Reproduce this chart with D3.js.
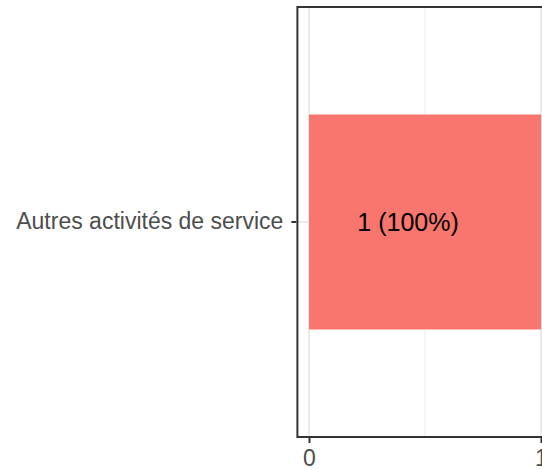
<!DOCTYPE html>
<html>
<head>
<meta charset="utf-8">
<script src="https://cdn.jsdelivr.net/npm/d3@7"></script>
<style>
  body { margin: 0; background: white; }
  svg { display: block; }
</style>
</head>
<body>
<div id="chart"></div>
<script>
// data
var categories = ["Autres activités de service"];
var counts = [1];
var percents = [100];
var xTicks = [0, 1];
var xMinor = [0.5];

var data = categories.map(function (c, i) {
  return {cat: c, n: counts[i], pct: percents[i]};
});

var W = 542, H = 470;
var panel = {top: 7, bottom: 437};

var svg = d3.select("#chart")
  .append("svg")
    .attr("width", W)
    .attr("height", H)
    .style("font-family", "Liberation Sans, Arial, sans-serif");

// x scale: 0 -> 309, 1 -> 541 (ggplot style 5% expansion)
var x = d3.scaleLinear()
  .domain([0, 1])
  .range([309, 541]);

// y scale: single band in the middle half of the panel
var y = d3.scaleBand()
  .domain(categories)
  .range([panel.top, panel.bottom])
  .paddingInner(0)
  .paddingOuter(0.5);

var left = x(-0.05), right = x(1.05);

// panel background
svg.append("rect")
  .attr("x", left)
  .attr("y", panel.top)
  .attr("width", right - left)
  .attr("height", panel.bottom - panel.top)
  .style("fill", "white");

// minor grid
svg.selectAll(".minor")
  .data(xMinor)
  .enter()
  .append("line")
    .attr("x1", function (d) { return x(d); })
    .attr("x2", function (d) { return x(d); })
    .attr("y1", panel.top)
    .attr("y2", panel.bottom)
    .style("stroke", "#ebebeb")
    .style("stroke-width", 1);

// major grid
svg.selectAll(".major")
  .data(xTicks)
  .enter()
  .append("line")
    .attr("x1", function (d) { return x(d); })
    .attr("x2", function (d) { return x(d); })
    .attr("y1", panel.top)
    .attr("y2", panel.bottom)
    .style("stroke", "#ebebeb")
    .style("stroke-width", 2);

svg.selectAll(".hgrid")
  .data(categories)
  .enter()
  .append("line")
    .attr("x1", left)
    .attr("x2", right)
    .attr("y1", function (d) { return y(d) + y.bandwidth() / 2; })
    .attr("y2", function (d) { return y(d) + y.bandwidth() / 2; })
    .style("stroke", "#ebebeb")
    .style("stroke-width", 2);

// bars
svg.selectAll(".bar")
  .data(data)
  .enter()
  .append("rect")
    .attr("x", x(0))
    .attr("y", function (d) { return y(d.cat); })
    .attr("width", function (d) { return x(d.n) - x(0); })
    .attr("height", y.bandwidth())
    .style("fill", "#F8766D");

// bar labels
svg.selectAll(".lab")
  .data(data)
  .enter()
  .append("text")
    .attr("x", function (d) { return x(d.n * 0.427); })
    .attr("y", function (d) { return y(d.cat) + y.bandwidth() / 2; })
    .attr("dy", "0.35em")
    .attr("text-anchor", "middle")
    .style("font-size", "25px")
    .style("fill", "black")
    .text(function (d) { return d.n + " (" + d.pct + "%)"; });

// panel border
svg.append("rect")
  .attr("x", left)
  .attr("y", panel.top)
  .attr("width", right - left)
  .attr("height", panel.bottom - panel.top)
  .style("fill", "none")
  .style("stroke", "#333333")
  .style("stroke-width", 2);

// x axis
var xAxis = svg.append("g")
  .attr("transform", "translate(0," + (panel.bottom + 1) + ")")
  .call(d3.axisBottom(x).tickValues(xTicks).tickFormat(d3.format("d")).tickSizeInner(5).tickSizeOuter(0).tickPadding(7));
xAxis.select(".domain").remove();
xAxis.selectAll(".tick line").style("stroke", "#333333").style("stroke-width", 2);
xAxis.selectAll(".tick text")
  .style("font-size", "23px")
  .style("fill", "#4d4d4d")
  .style("font-family", "Liberation Sans, Arial, sans-serif");

// y axis
var yAxis = svg.append("g")
  .attr("transform", "translate(" + (left - 1) + ",0)")
  .call(d3.axisLeft(y).tickSizeInner(5).tickSizeOuter(0).tickPadding(8));
yAxis.select(".domain").remove();
yAxis.selectAll(".tick line").style("stroke", "#333333").style("stroke-width", 2);
yAxis.selectAll(".tick text")
  .style("font-size", "23px")
  .style("fill", "#4d4d4d")
  .style("font-family", "Liberation Sans, Arial, sans-serif");
</script>
</body>
</html>
